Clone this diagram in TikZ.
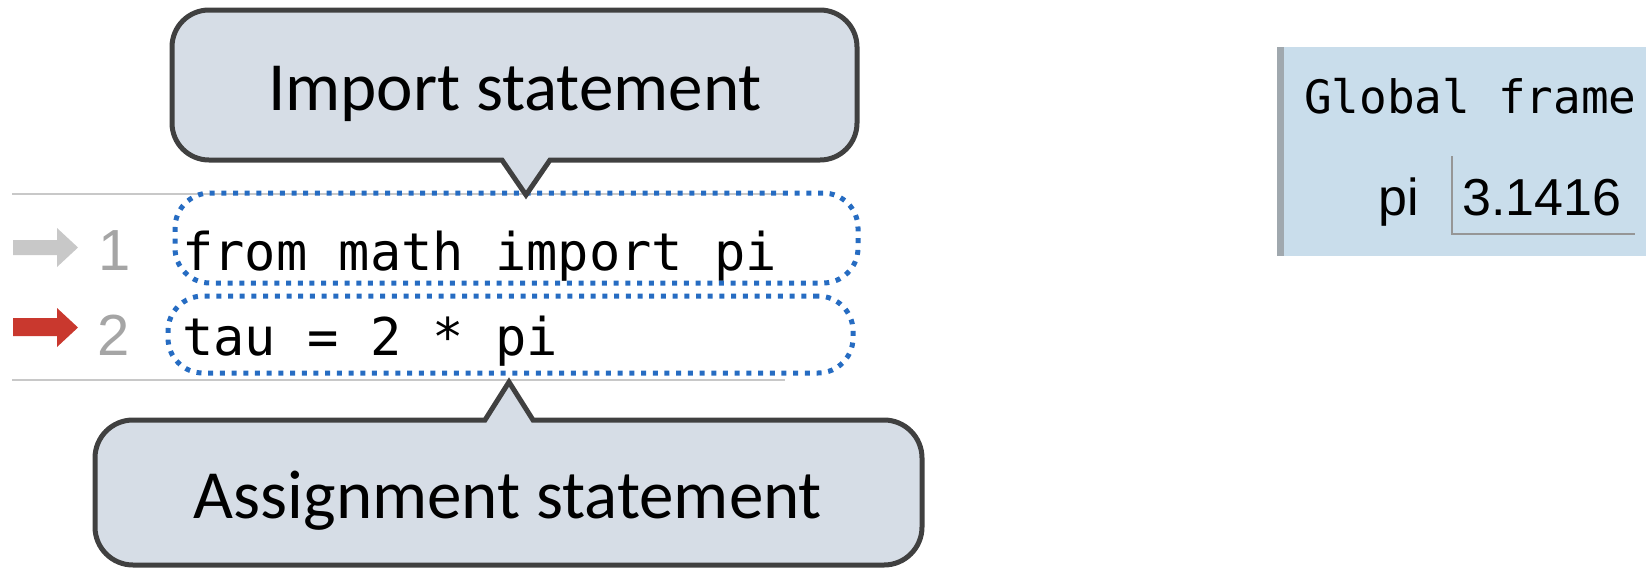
\documentclass[tikz,border=0pt]{standalone}
\usepackage{fontspec}
\setmainfont{Carlito}
\newfontfamily\codefont{DejaVu Sans Mono}
\newfontfamily\numfont{Liberation Sans}
\definecolor{calloutfill}{RGB}{214,221,230}
\definecolor{calloutline}{RGB}{64,64,64}
\definecolor{dotblue}{RGB}{38,108,194}
\definecolor{rulegray}{RGB}{200,200,200}
\definecolor{linenogray}{RGB}{165,165,165}
\definecolor{donearrow}{RGB}{200,200,200}
\definecolor{nextarrow}{RGB}{201,56,46}
\definecolor{framefill}{RGB}{201,221,235}
\definecolor{frameedge}{RGB}{160,168,174}
\definecolor{valline}{RGB}{150,150,150}
\tikzset{
  callout/.style={draw=calloutline, fill=calloutfill, line width=5pt, line join=miter},
  calltext/.style={font=\fontsize{69}{80}\selectfont, inner sep=0pt, anchor=base},
  codeline/.style={font=\codefont\fontsize{52}{60}\selectfont, inner sep=0pt, anchor=base west},
  lineno/.style={font=\numfont\fontsize{58}{64}\selectfont, text=linenogray, inner sep=0pt, anchor=base},
  stmtbox/.style={draw=dotblue, line width=5pt, dash pattern=on 5pt off 6.7pt,
                  rounded corners=35pt, inner sep=0pt},
  coderule/.style={draw=rulegray, line width=2.5pt},
  frametitle/.style={font=\codefont\fontsize{46}{52}\selectfont, inner sep=0pt, anchor=base west},
  varname/.style={font=\numfont\fontsize{52}{60}\selectfont, inner sep=0pt},
}
\begin{document}
\begin{tikzpicture}[x=1pt,y=1pt]
\useasboundingbox (0,0) rectangle (1646,-568);

% code listing rules
\draw[coderule] (12,-194) -- (785,-194);
\draw[coderule] (12,-380) -- (785,-380);

% line markers
\fill[donearrow] (13,-240) -- (57,-240) -- (57,-228) -- (78,-247.5) -- (57,-267) -- (57,-255) -- (13,-255) -- cycle;
\fill[nextarrow] (13,-318) -- (57,-318) -- (57,-308) -- (78,-327.5) -- (57,-347) -- (57,-336) -- (13,-336) -- cycle;
\node[lineno] (n1) at (115,-270) {1};
\node[lineno] (n2) at (114,-355) {2};

% code
\node[codeline] (code1) at (182,-270) {from math import pi};
\node[codeline] (code2) at (182,-355) {tau = 2 * pi};

% statement outlines
\node[stmtbox, minimum width=683pt, minimum height=90pt] (box1) at (516.5,-238) {};
\node[stmtbox, minimum width=685pt, minimum height=77pt] (box2) at (510.5,-334.5) {};

% import callout
\coordinate (tip1) at (526,-195);
\draw[callout] (tip1) -- (550,-160) -- (820,-160)
  arc[start angle=-90, end angle=0, radius=37pt] -- (857,-47)
  arc[start angle=0, end angle=90, radius=37pt] -- (209,-10)
  arc[start angle=90, end angle=180, radius=37pt] -- (172,-123)
  arc[start angle=180, end angle=270, radius=37pt] -- (502,-160) -- cycle;
\node[calltext] (importlbl) at (515,-110) {Import statement};

% assignment callout
\coordinate (tip2) at (509,-382);
\draw[callout] (tip2) -- (533,-420) -- (884,-420)
  arc[start angle=90, end angle=0, radius=38pt] -- (922,-527)
  arc[start angle=0, end angle=-90, radius=38pt] -- (133,-565)
  arc[start angle=270, end angle=180, radius=38pt] -- (95,-458)
  arc[start angle=180, end angle=90, radius=38pt] -- (485,-420) -- cycle;
\node[calltext] (assignlbl) at (508,-518) {Assignment statement};

% global frame
\fill[framefill] (1277,-47) rectangle (1646,-256);
\fill[frameedge] (1277,-47) rectangle (1284,-256);
\node[frametitle] (gframe) at (1304,-113) {Global frame};
\node[varname, anchor=base east] (piname) at (1419,-215) {pi};
\node[varname, anchor=base west] (pival) at (1462,-215) {3.1416};
\draw[valline, line width=1.5pt] (1452,-156) -- (1452,-234) -- (1635,-234);
\end{tikzpicture}
\end{document}
